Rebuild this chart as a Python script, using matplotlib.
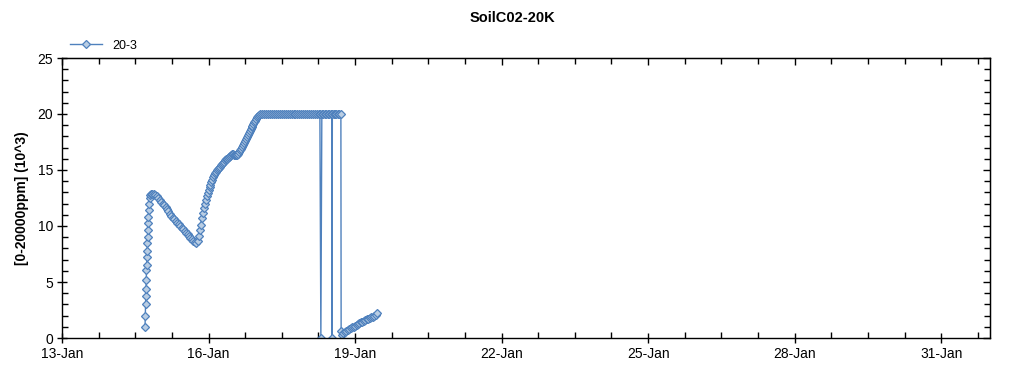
import matplotlib
matplotlib.use("Agg")
import matplotlib.pyplot as plt
import matplotlib.dates as mdates
from matplotlib.ticker import MultipleLocator, FixedLocator, NullFormatter
from datetime import datetime
import numpy as np

plt.rcParams['font.family'] = ['Liberation Sans', 'DejaVu Sans']

title = "SoilC02-20K"
ylabel = "[0-20000ppm] (10^3)"
series_name = "20-3"

# time in fractional day-of-January, values in 10^3 ppm
days = [
    14.700, 14.705, 14.710, 14.715, 14.720, 14.725, 14.730, 14.735, 14.740, 14.745,
    14.750, 14.755, 14.760, 14.765, 14.770, 14.778, 14.786, 14.795, 14.810, 14.830,
    14.85, 14.88, 14.91, 14.94, 14.97, 15.00, 15.03, 15.06, 15.09, 15.12,
    15.15, 15.18, 15.21, 15.24, 15.27, 15.30, 15.33, 15.36, 15.39, 15.42,
    15.45, 15.48, 15.51, 15.54, 15.57, 15.60, 15.63, 15.66, 15.69, 15.72,
    15.75, 15.78, 15.80, 15.82, 15.84, 15.86, 15.88, 15.90, 15.92, 15.94,
    15.96, 15.98, 16.00, 16.02, 16.04, 16.06, 16.08, 16.10, 16.12, 16.14,
    16.16, 16.18, 16.20, 16.22, 16.24, 16.26, 16.28, 16.30, 16.32, 16.34,
    16.36, 16.38, 16.40, 16.42, 16.44, 16.46, 16.48, 16.50, 16.52, 16.54,
    16.56, 16.58, 16.60, 16.62, 16.64, 16.66, 16.68, 16.70, 16.72, 16.74,
    16.76, 16.78, 16.80, 16.82, 16.84, 16.86, 16.88, 16.90, 16.92, 16.94,
    16.96, 16.98, 17.00, 17.02, 17.04, 17.06, 17.10, 17.14, 17.18, 17.22,
    17.26, 17.30, 17.34, 17.38, 17.42, 17.46, 17.50, 17.54, 17.58, 17.62,
    17.66, 17.70, 17.74, 17.78, 17.82, 17.86, 17.90, 17.94, 17.98, 18.02,
    18.06, 18.10, 18.14, 18.18, 18.22, 18.26, 18.28, 18.30, 18.32, 18.35,
    18.38, 18.41, 18.44, 18.47, 18.50, 18.525, 18.53, 18.535, 18.56, 18.59,
    18.62, 18.65, 18.68, 18.71, 18.715, 18.73, 18.76, 18.79, 18.82, 18.85,
    18.88, 18.91, 18.94, 18.97, 19.00, 19.03, 19.06, 19.09, 19.12, 19.15,
    19.18, 19.21, 19.24, 19.27, 19.30, 19.33, 19.36, 19.39, 19.42, 19.45,
]
values = [
    1.0, 1.96, 3.0, 3.75, 4.4, 5.2, 6.1, 6.5, 7.2, 7.8,
    8.5, 9.0, 9.6, 10.3, 10.8, 11.4, 12.0, 12.5, 12.8, 12.9,
    12.9, 12.9, 12.8, 12.7, 12.5, 12.3, 12.1, 12.0, 11.9, 11.7,
    11.5, 11.3, 11.1, 10.9, 10.75, 10.6, 10.45, 10.3, 10.15, 10.0,
    9.85, 9.7, 9.55, 9.4, 9.25, 9.1, 8.95, 8.8, 8.65, 8.55,
    8.5, 8.7, 9.1, 9.6, 10.1, 10.7, 11.2, 11.6, 12.0, 12.35,
    12.65, 12.95, 13.2, 13.45, 13.7, 13.95, 14.15, 14.35, 14.55, 14.7,
    14.85, 15.0, 15.1, 15.2, 15.3, 15.45, 15.55, 15.65, 15.75, 15.85,
    15.95, 16.0, 16.1, 16.2, 16.25, 16.3, 16.4, 16.4, 16.35, 16.3,
    16.3, 16.35, 16.45, 16.6, 16.75, 16.9, 17.05, 17.2, 17.4, 17.6,
    17.8, 17.95, 18.1, 18.3, 18.5, 18.65, 18.8, 18.95, 19.1, 19.25,
    19.4, 19.55, 19.7, 19.85, 19.95, 20.0, 20.0, 20.0, 20.0, 20.0,
    20.0, 20.0, 20.0, 20.0, 20.0, 20.0, 20.0, 20.0, 20.0, 20.0,
    20.0, 20.0, 20.0, 20.0, 20.0, 20.0, 20.0, 20.0, 20.0, 20.0,
    20.0, 20.0, 20.0, 20.0, 20.0, 20.0, 20.0, 0.0, 20.0, 20.0,
    20.0, 20.0, 20.0, 20.0, 20.0, 20.0, 0.0, 20.0, 20.0, 20.0,
    20.0, 20.0, 20.0, 20.0, 0.65, 0.3, 0.42, 0.53, 0.64, 0.74,
    0.83, 0.9, 0.96, 1.02, 1.09, 1.17, 1.25, 1.32, 1.39, 1.46,
    1.53, 1.6, 1.66, 1.72, 1.78, 1.84, 1.9, 1.96, 2.04, 2.2,
]

x_start_day, x_end_day = 13, 32
y_min, y_max = 0, 25

base = mdates.date2num(datetime(2014, 1, 1))
x = [base + d - 1 for d in days]

fig = plt.figure(figsize=(10.24, 3.75), dpi=100)
ax = fig.add_axes([62/1024, 1 - 338/375, (990 - 62)/1024, (338 - 58)/375])

line_color = '#4F81BD'
face_color = '#B9CDE3'
ax.plot(x, values, color=line_color, lw=1.0, marker='D', markersize=4.0,
        markerfacecolor=face_color, markeredgecolor=line_color,
        markeredgewidth=0.9, label=series_name)

ax.set_xlim(base + x_start_day - 1, base + x_end_day - 1)
ax.set_ylim(y_min, y_max)

major_x = [base + d - 1 for d in range(13, 32, 3)]
minor_x = list(np.arange(base + 12, base + 31.01, 0.75))
ax.xaxis.set_major_locator(FixedLocator(major_x))
ax.xaxis.set_minor_locator(FixedLocator(minor_x))
ax.xaxis.set_major_formatter(mdates.DateFormatter('%d-%b'))
ax.yaxis.set_major_locator(MultipleLocator(5))
ax.yaxis.set_minor_locator(MultipleLocator(1))

for s in ax.spines.values():
    s.set_linewidth(1.0)
    s.set_color('black')

ax.tick_params(which='major', direction='inout', length=7, width=1,
               labelsize=10, pad=3)
ax.tick_params(which='minor', direction='in', length=4, width=1)

# top / right ticks pointing inward only
secx = ax.secondary_xaxis('top')
secx.xaxis.set_major_locator(FixedLocator(major_x))
secx.xaxis.set_minor_locator(FixedLocator(minor_x))
secx.xaxis.set_major_formatter(NullFormatter())
secx.tick_params(which='major', direction='in', length=5, width=1)
secx.tick_params(which='minor', direction='in', length=4, width=1)
secy = ax.secondary_yaxis('right')
secy.yaxis.set_major_locator(MultipleLocator(5))
secy.yaxis.set_minor_locator(MultipleLocator(1))
secy.yaxis.set_major_formatter(NullFormatter())
secy.tick_params(which='major', direction='in', length=5, width=1)
secy.tick_params(which='minor', direction='in', length=4, width=1)

ax.set_ylabel(ylabel, fontsize=10, fontweight='bold', labelpad=6)
fig.text(0.5, 0.952, title, ha='center', va='center', fontsize=10.5,
         fontweight='bold')

fig.legend(loc='center left', bbox_to_anchor=(0.062, 0.878), frameon=False,
           fontsize=9, handlelength=2.6, borderpad=0, handletextpad=0.8)

fig.savefig('out.png', dpi=100)
